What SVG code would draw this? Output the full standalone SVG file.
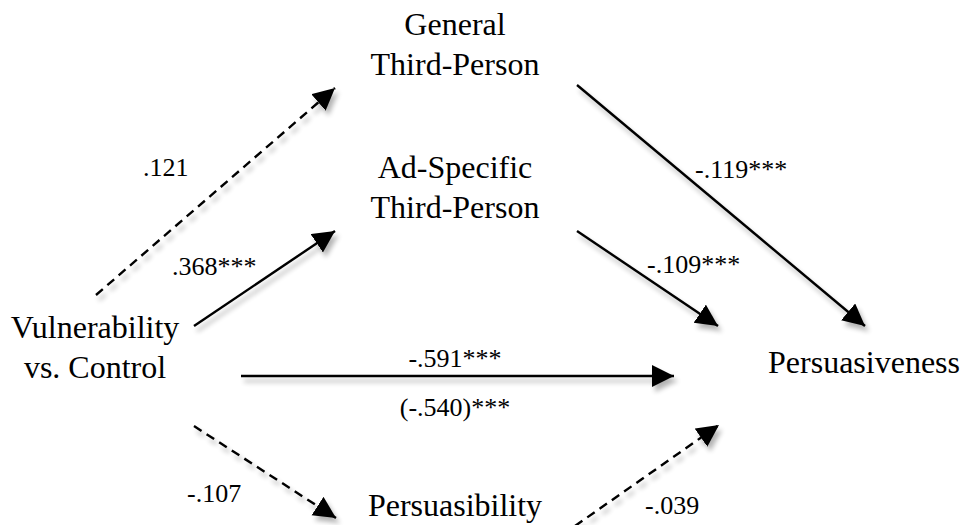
<svg xmlns="http://www.w3.org/2000/svg" width="960" height="525" viewBox="0 0 960 525">
  <defs>
    <style>
      text { font-family: "Liberation Serif", "Times New Roman", Times, "DejaVu Serif", serif; fill: #000; }
      .label { font-size: 32px; text-anchor: middle; }
      .coef { font-size: 26px; }
      .path { stroke: #000; stroke-width: 2.4; fill: none; marker-end: url(#head); }
      .dashed { stroke-dasharray: 9 6; }
    </style>
    <marker id="head" markerUnits="userSpaceOnUse" markerWidth="24" markerHeight="24" refX="22" refY="11" orient="auto" viewBox="0 0 24 24">
      <path d="M0,0 L22,11 L0,22 Z" fill="#000"/>
    </marker>
    <filter id="shadow" x="-10%" y="-10%" width="130%" height="130%">
      <feGaussianBlur in="SourceAlpha" stdDeviation="2.5"/>
      <feOffset dx="3" dy="5" result="blur"/>
      <feComponentTransfer><feFuncA type="linear" slope="0.3"/></feComponentTransfer>
      <feMerge><feMergeNode/><feMergeNode in="SourceGraphic"/></feMerge>
    </filter>
  </defs>
  <rect width="960" height="525" fill="#fff"/>

  <!-- path connectors -->
  <g id="connectors" filter="url(#shadow)">
    <line class="path dashed" x1="96" y1="295" x2="335" y2="88"/>
    <line class="path" x1="194" y1="326" x2="335" y2="231"/>
    <line class="path" x1="577" y1="85" x2="865" y2="326"/>
    <line class="path" x1="577" y1="231" x2="718" y2="326"/>
    <line class="path" x1="241" y1="376" x2="674" y2="376"/>
    <line class="path dashed" x1="194" y1="426" x2="336" y2="518"/>
    <line class="path dashed" x1="575" y1="526" x2="719" y2="425"/>
  </g>

  <!-- path coefficients -->
  <g id="coefficients">
    <text class="coef" x="143" y="176" font-family="Liberation Serif, serif">.121</text>
    <text class="coef" x="172" y="275" font-family="Liberation Serif, serif">.368***</text>
    <text class="coef" x="695" y="178" font-family="Liberation Serif, serif">-.119***</text>
    <text class="coef" x="647" y="273" font-family="Liberation Serif, serif">-.109***</text>
    <text class="coef" x="455" y="367" text-anchor="middle" font-family="Liberation Serif, serif">-.591***</text>
    <text class="coef" x="455" y="416" text-anchor="middle" font-family="Liberation Serif, serif">(-.540)***</text>
    <text class="coef" x="187" y="502" font-family="Liberation Serif, serif">-.107</text>
    <text class="coef" x="645" y="514" font-family="Liberation Serif, serif">-.039</text>
  </g>

  <g id="general-third-person">
    <text class="label" x="455" y="35">General</text>
    <text class="label" x="455" y="75">Third-Person</text>
  </g>
  <g id="ad-specific-third-person">
    <text class="label" x="455" y="178">Ad-Specific</text>
    <text class="label" x="455" y="218">Third-Person</text>
  </g>
  <g id="vulnerability">
    <text class="label" x="95" y="338">Vulnerability</text>
    <text class="label" x="95" y="378">vs. Control</text>
  </g>
  <g id="persuasiveness">
    <text class="label" x="864" y="373">Persuasiveness</text>
  </g>
  <g id="persuasibility">
    <text class="label" x="455" y="516">Persuasibility</text>
  </g>
</svg>
